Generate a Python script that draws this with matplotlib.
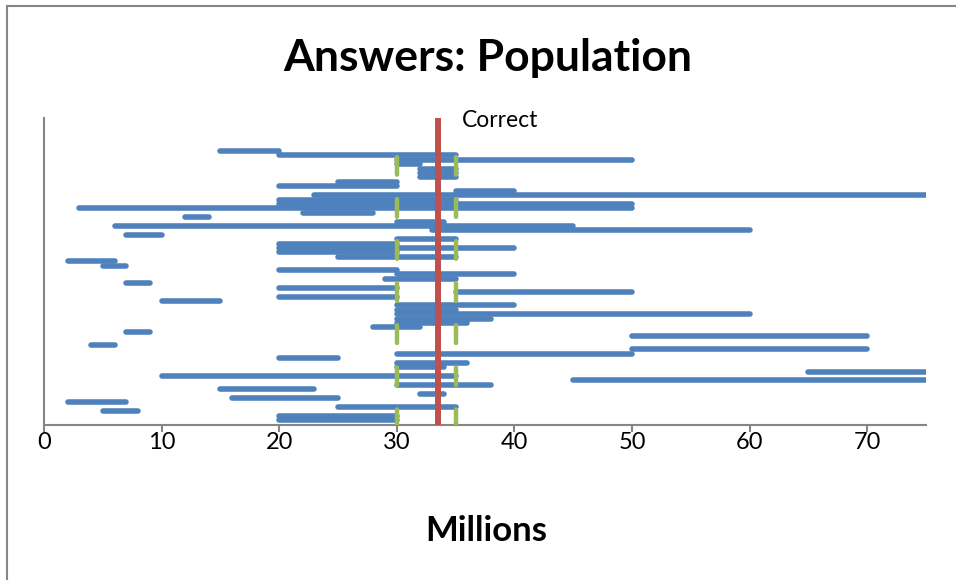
import matplotlib
matplotlib.use("Agg")
import matplotlib.pyplot as plt
from matplotlib.patches import Rectangle

# each row is one answer: (low, high) in millions, top to bottom
lows = [15, 20, 30, 30, 32, 32, 32, 25, 20, 35,
        23, 20, 20, 3, 22, 12, 30, 6, 33, 7,
        30, 20, 20, 20, 25, 2, 5, 20, 30, 29,
        7, 20, 35, 20, 10, 30, 30, 30, 30, 30,
        28, 7, 50, None, 4, 50, 30, 20, 30, 30,
        65, 10, 45, 30, 15, 32, 16, 2, 25, 5,
        20, 20]
highs = [20, 35, 50, 32, 35, 35, 35, 30, 30, 40,
         75, 35, 50, 50, 28, 14, 34, 45, 60, 10,
         35, 30, 40, 30, 35, 6, 7, 30, 40, 35,
         9, 30, 50, 30, 15, 40, 35, 60, 38, 36,
         32, 9, 70, None, 6, 70, 50, 25, 36, 34,
         75, 35, 75, 38, 23, 34, 25, 7, 35, 8,
         30, 30]
correct = 33.5
range_marks = [30, 35]
x_ticks = [0, 10, 20, 30, 40, 50, 60, 70]

BLUE = "#4F81BD"
GREEN = "#9BBB59"
RED = "#C0504D"
GRAY = "#868686"
FONT = "Lato"

plt.rcParams["lines.scale_dashes"] = False

W, H = 956, 580
fig = plt.figure(figsize=(W / 100, H / 100), dpi=100)

# chart frame
fig.patches.append(Rectangle((7 / W, -0.1), 1.2, 1 - 6 / H + 0.1, transform=fig.transFigure,
                             fill=False, edgecolor=GRAY, linewidth=1.5))

x0, x1 = 44, 926
y_top, y_bot = 118, 425
ax = fig.add_axes([x0 / W, 1 - y_bot / H, (x1 - x0) / W, (y_bot - y_top) / H])

row_px = 4.41
first_row_px = 151
ax.set_ylim((y_bot - first_row_px) / row_px, (y_top - first_row_px) / row_px)
ax.set_xlim(0, 75)

for i, (lo, hi) in enumerate(zip(lows, highs)):
    if lo is None:
        continue
    ax.plot([lo, hi], [i, i], color=BLUE, lw=4.0, solid_capstyle="round", zorder=2)

# dashed range markers
y_dash_top = (157 - first_row_px) / row_px
y_dash_bot = (y_bot - first_row_px) / row_px
for xm in range_marks:
    line, = ax.plot([xm, xm], [y_dash_top, y_dash_bot], color=GREEN, lw=3.2,
                    dash_capstyle="round", zorder=3)
    line.set_dashes([12.7, 17.6])

ax.axvline(correct, color=RED, lw=4.3, zorder=4)
ax.text(correct + 2.0, (y_top - first_row_px) / row_px - 1.8, "Correct",
        fontsize=16.5, family=FONT, va="top", ha="left", clip_on=False)

for side in ["top", "right"]:
    ax.spines[side].set_visible(False)
ax.spines["left"].set_color(GRAY)
ax.spines["left"].set_linewidth(1.5)
ax.spines["bottom"].set_color(GRAY)
ax.spines["bottom"].set_linewidth(1.5)
ax.set_yticks([])
ax.set_xticks(x_ticks)
ax.tick_params(axis="x", direction="out", length=5, width=1.5, color=GRAY,
               pad=0, labelsize=17)
for lab in ax.get_xticklabels():
    lab.set_family(FONT)

fig.text(488 / W, 1 - 58 / H, "Answers: Population", ha="center", va="center",
         fontsize=32, fontweight="bold", family=FONT)
fig.text(486 / W, 1 - 531 / H, "Millions", ha="center", va="center",
         fontsize=25, fontweight="bold", family=FONT)

fig.savefig("out.png", dpi=100)
